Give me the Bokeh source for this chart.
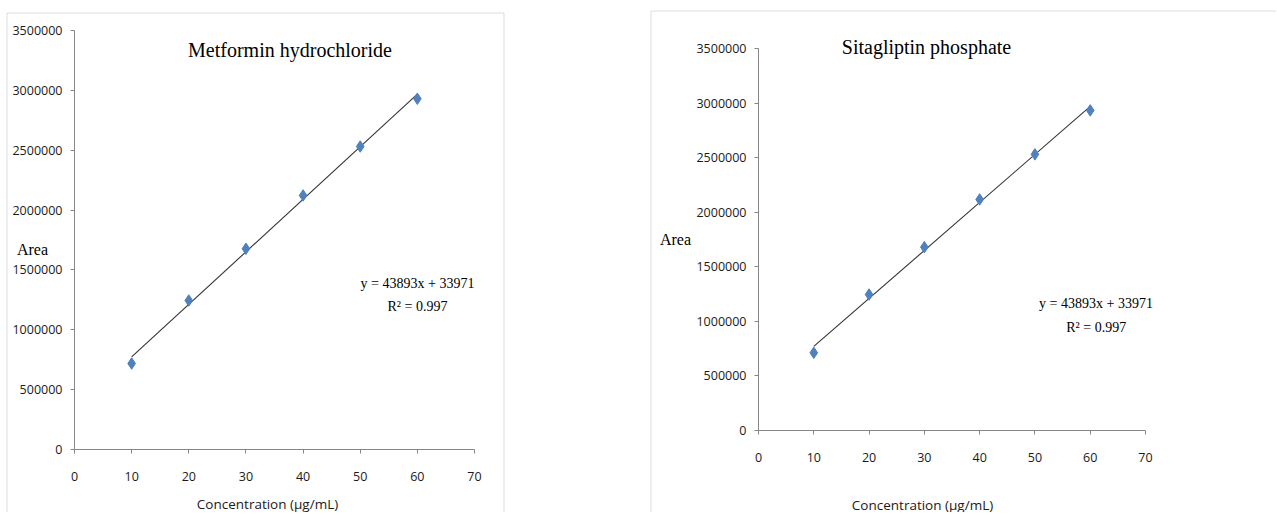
import numpy as np
from bokeh.plotting import figure
from bokeh.layouts import row
from bokeh.models import Label, FixedTicker, BoxAnnotation, Range1d
from bokeh.embed import file_html
from bokeh.resources import INLINE

# ---- data ----
concentration = [10, 20, 30, 40, 50, 60]
area_metformin = [718000, 1245000, 1677000, 2122000, 2531000, 2930000]
area_sitagliptin = [712000, 1246000, 1680000, 2117000, 2530000, 2933000]
x_ticks = [0, 10, 20, 30, 40, 50, 60, 70]
y_ticks = [0, 500000, 1000000, 1500000, 2000000, 2500000, 3000000, 3500000]
y_tick_labels = [str(v) for v in y_ticks]
titles = ["Metformin hydrochloride", "Sitagliptin phosphate"]
equation = "y = 43893x + 33971"
r_squared = "R² = 0.997"
x_title = "Concentration (μg/mL)"
y_title = "Area"

X_MIN, X_MAX = 0, 70
Y_MIN, Y_MAX = 0, 3500000

AXIS = "#868686"
BLUE = "#4F81BD"
TXT = "#1a1a1a"
SERIF = "Liberation Serif"
SANS = "Open Sans"
H = 512


def make_panel(y_vals, title, W, ax_px, layout_px):
    # ax_px: canvas pixel of x=X_MIN, x=X_MAX, y=Y_MIN, y=Y_MAX (y from top)
    px0, px1, py0, py1 = ax_px
    sx = (px1 - px0) / (X_MAX - X_MIN)
    sy = (py0 - py1) / (Y_MAX - Y_MIN)
    fx = lambda px: X_MIN + (px - px0) / sx
    fy = lambda py: Y_MIN + (py0 - py) / sy

    p = figure(width=W, height=H,
               x_range=Range1d(fx(0), fx(W)), y_range=Range1d(fy(H), fy(0)),
               output_backend="svg", toolbar_location=None,
               min_border=0)
    p.outline_line_color = None
    p.grid.visible = False
    p.background_fill_color = "white"
    p.border_fill_color = "white"
    for ax in (p.xaxis[0], p.yaxis[0]):
        ax.fixed_location = 0
        ax.axis_line_color = AXIS
        ax.major_tick_line_color = AXIS
        ax.minor_tick_line_color = None
        ax.major_tick_out = 4
        ax.major_tick_in = 0
        ax.major_label_text_font = SANS
        ax.major_label_text_font_size = "12.5px"
        ax.major_label_text_color = TXT
    p.xaxis.ticker = FixedTicker(ticks=x_ticks)
    p.yaxis.ticker = FixedTicker(ticks=y_ticks)
    p.xaxis.bounds = (X_MIN, X_MAX)
    p.yaxis.bounds = (Y_MIN, Y_MAX)
    p.yaxis.major_label_overrides = {v: s for v, s in zip(y_ticks, y_tick_labels)}
    p.xaxis.major_label_standoff = 18
    p.yaxis.major_label_standoff = 8

    L = layout_px
    bl, bt, br = L["border"]
    p.add_layout(BoxAnnotation(left=fx(bl), top=fy(bt), right=fx(br), bottom=fy(H + 50),
                               fill_alpha=0, line_color="#8a8a8a", line_width=1))

    slope, intercept = np.polyfit(concentration, y_vals, 1)
    xs = [min(concentration), max(concentration)]
    p.line(xs, [slope * v + intercept for v in xs], line_color="#333333", line_width=1.1)
    p.scatter(concentration, y_vals, marker="diamond", size=11.5,
              fill_color=BLUE, line_color=BLUE)

    def lab(key, text, font, size, color="black"):
        x, y = L[key]
        p.add_layout(Label(x=fx(x), y=fy(y), text=text, text_font=font,
                           text_font_size=size, text_align="center",
                           text_baseline="middle", text_color=color))

    lab("title", title, SERIF, "20px")
    lab("area", y_title, SERIF, "16px")
    lab("eq1", equation, SERIF, "14px")
    lab("eq2", r_squared, SERIF, "14px")
    lab("xtitle", x_title, SANS, "13.5px", TXT)
    return p


W1 = 560
W2 = 716
p1 = make_panel(area_metformin, titles[0], W1, (74, 474, 449, 30),
                {"border": (6.5, 12.5, 503.5), "title": (289.5, 49), "area": (32, 249),
                 "eq1": (417, 283), "eq2": (417, 306), "xtitle": (267, 503)})
o = W1
p2 = make_panel(area_sitagliptin, titles[1], W2, (758 - o, 1145 - o, 430, 48),
                {"border": (650.5 - o, 10.5, 2000), "title": (926 - o, 46), "area": (675 - o, 239),
                 "eq1": (1095.5 - o, 303), "eq2": (1095.7 - o, 327), "xtitle": (922 - o, 504)})

layout = row(p1, p2, spacing=0)
open("out.html", "w").write(file_html(layout, INLINE))
